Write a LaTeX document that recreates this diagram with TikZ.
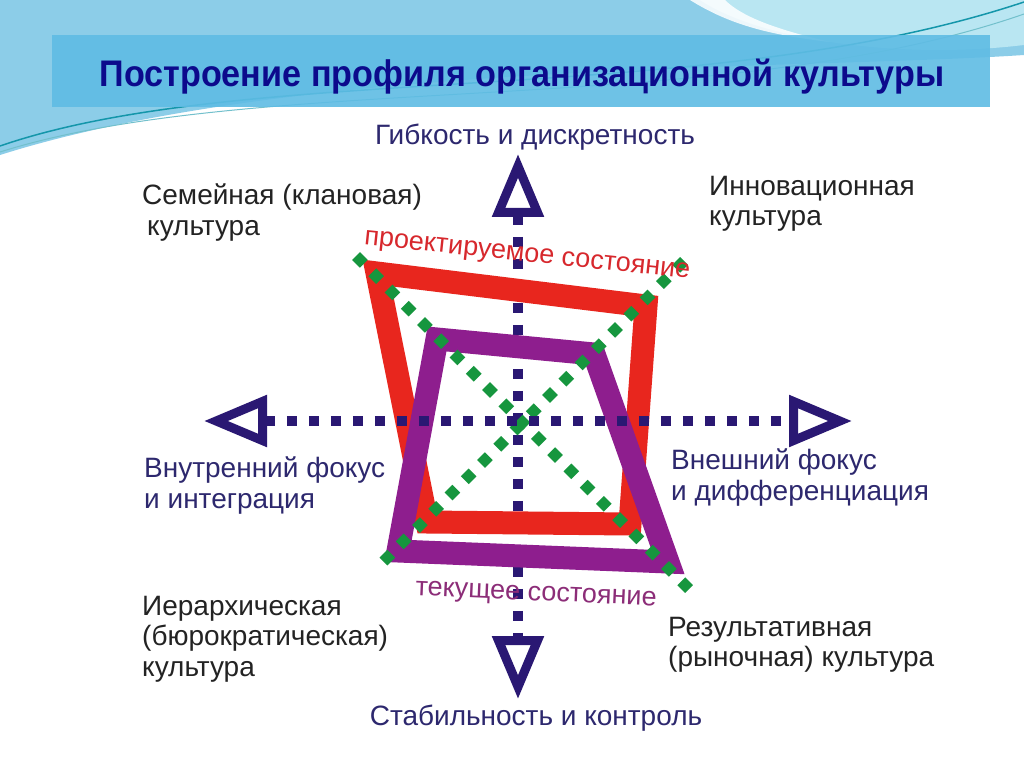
\documentclass[tikz,border=0pt]{standalone}
\usepackage{fontspec}
\setmainfont{Liberation Sans}
\usepackage{graphicx}
\usetikzlibrary{calc, arrows.meta}
\definecolor{axisblue}{RGB}{42,24,115}
\definecolor{labelblue}{RGB}{45,40,110}
\definecolor{labelgray}{RGB}{35,35,35}
\definecolor{projred}{RGB}{232,38,30}
\definecolor{projtext}{RGB}{215,40,45}
\definecolor{curpurple}{RGB}{142,30,142}
\definecolor{curtext}{RGB}{140,45,120}
\definecolor{diaggreen}{RGB}{22,150,62}
\definecolor{titleblue}{RGB}{12,10,140}
\definecolor{bandblue}{RGB}{95,188,228}
\definecolor{wavelight}{RGB}{140,205,232}
\definecolor{wavepale}{RGB}{185,230,242}
\definecolor{waveline}{RGB}{20,150,170}
\tikzset{
  >=latex,
  tip/.tip={Triangle[open, length=63pt, width=50pt, line width=9pt]},
  axis/.style={axisblue, line width=10pt, dash pattern=on 10pt off 12pt, tip-tip},
  diag/.style={diaggreen, line width=11pt, dash pattern=on 11pt off 12pt},
  profile/.style={line width=23pt, line join=miter},
  label/.style={font=\fontsize{28}{30.5}\selectfont, inner sep=0pt, align=left},
}
\begin{document}
\begin{tikzpicture}[x=1pt, y=-1pt]
\useasboundingbox (0,0) rectangle (1024,767);
\fill[white] (0,0) rectangle (1024,767);
% banner waves
\fill[wavelight] (0,0) -- (1024,0) -- (1024,55) .. controls (800,70) and (300,60) .. (0,155) -- cycle;
\fill[wavepale] (700,0) .. controls (760,40) and (900,60) .. (1024,45) -- (1024,0) -- cycle;
\fill[white, opacity=.85] (690,0) .. controls (730,25) and (770,35) .. (830,42) .. controls (770,28) and (740,15) .. (725,0) -- cycle;
\draw[waveline, line width=1.5pt] (0,146) .. controls (250,60) and (700,110) .. (1024,2);
\draw[waveline!60!white, line width=1pt] (0,152) .. controls (260,70) and (720,120) .. (1024,14);
\fill[bandblue, opacity=.9] (52,35) rectangle (990,107);
\node[font=\bfseries\fontsize{37}{40}\selectfont, titleblue, anchor=base, inner sep=0pt] (title) at (522,87)
  {\resizebox{845pt}{\height}{Построение профиля организационной культуры}};

% axes
\coordinate (flexTop) at (518,154);
\coordinate (stabBot) at (518,699);
\coordinate (intLeft) at (204,421);
\coordinate (extRight) at (852,421);
\draw[axis] (flexTop) -- (stabBot);

% profiles
\draw[profile, projred] (377,273) -- (646,306) -- (630,524) -- (427,522) -- cycle;
\draw[profile, curpurple] (437,339) -- (594,354) -- (668,562) -- (398,551) -- cycle;
\draw[diag] (356,256) -- (696,596);
\draw[diag] (684,261) -- (376,569);
\draw[axis] (intLeft) -- (extRight);

% labels
\node[label, labelblue, anchor=base] (flexLbl) at (535,145) {Гибкость и дискретность};
\node[label, labelblue, anchor=base] (stabLbl) at (536,725) {Стабильность и контроль};
\node[label, labelgray, anchor=north west] (clanLbl) at (142,184) {Семейная (клановая)\\\hspace*{5pt}культура};
\node[label, labelgray, anchor=north west] (innovLbl) at (709,176) {Инновационная\\культура};
\node[label, labelblue, anchor=north west] (intLbl) at (144,457) {Внутренний фокус\\и интеграция};
\node[label, labelblue, anchor=north west] (extLbl) at (671,449) {Внешний фокус\\и дифференциация};
\node[label, labelgray, anchor=north west] (hierLbl) at (142,596) {Иерархическая\\(бюрократическая)\\культура};
\node[label, labelgray, anchor=north west] (marketLbl) at (668,617) {Результативная\\(рыночная) культура};
\node[label, projtext, rotate=-6, font=\fontsize{27}{30}\selectfont] (projLbl) at (527,257) {проектируемое состояние};
\node[label, curtext, rotate=-2.5, font=\fontsize{27}{30}\selectfont] (curLbl) at (536,596) {текущее состояние};
\end{tikzpicture}
\end{document}
